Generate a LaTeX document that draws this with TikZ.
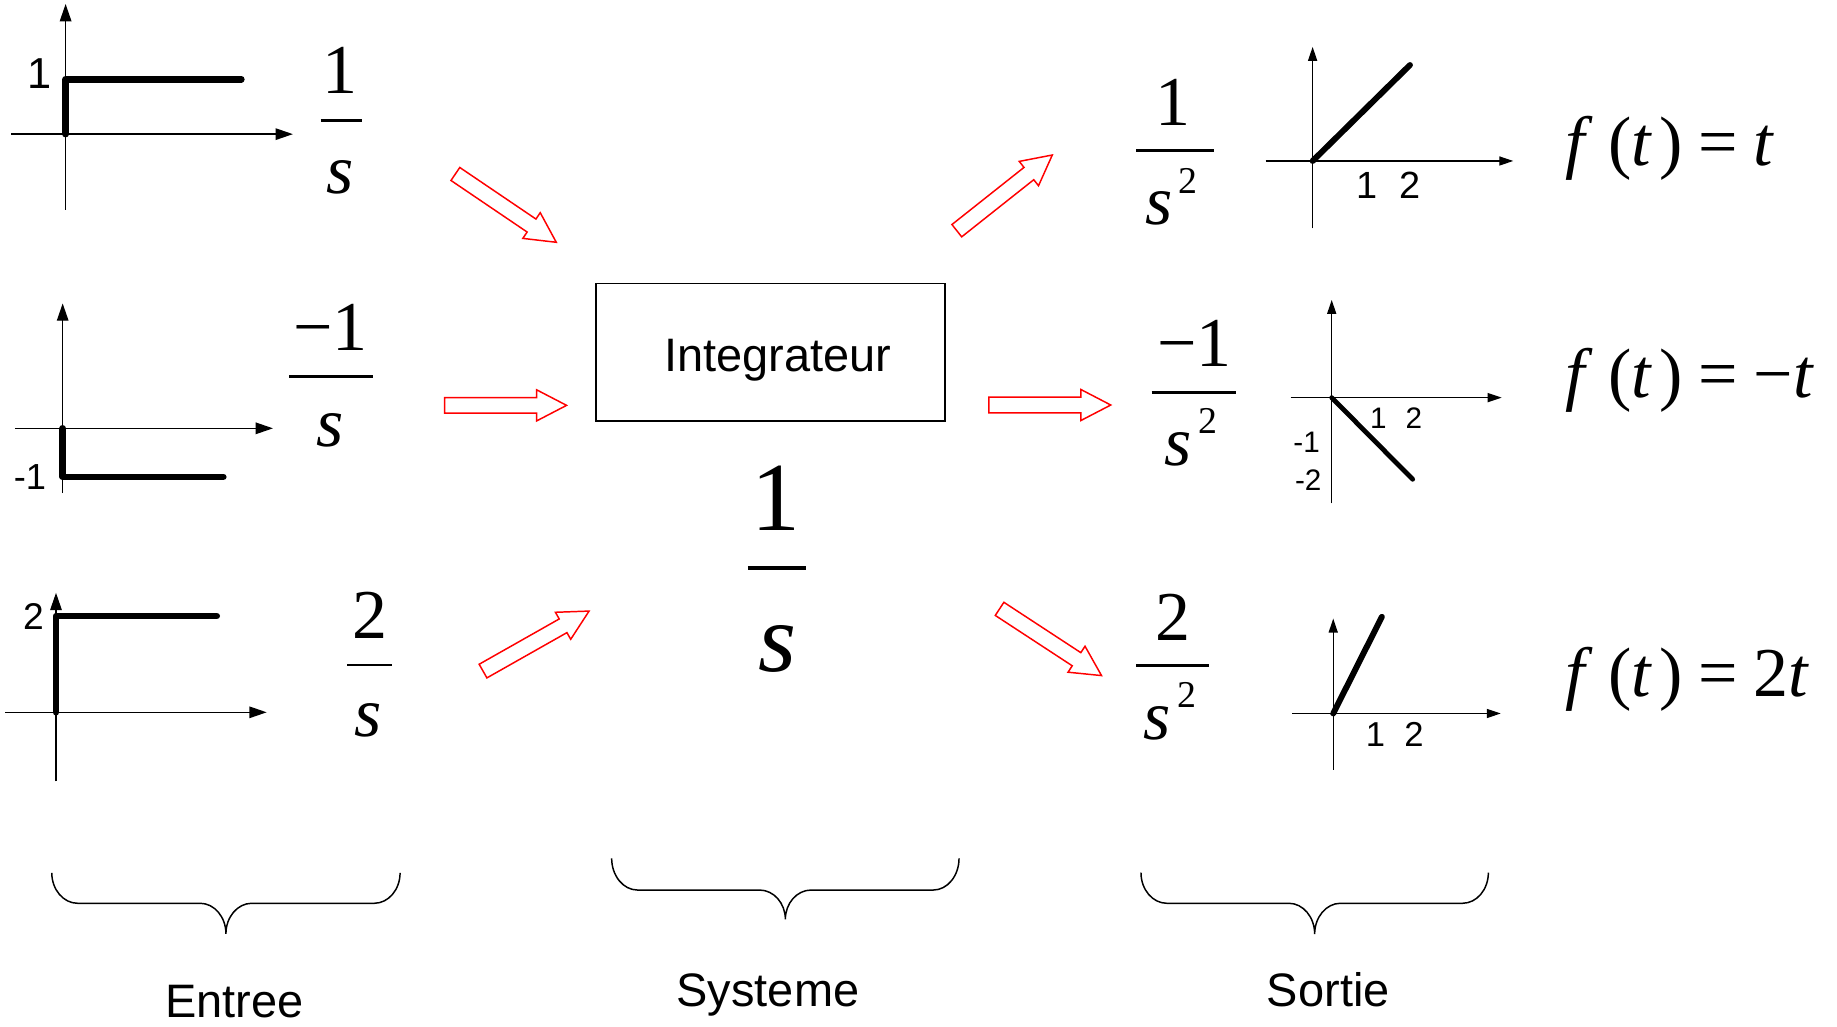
\documentclass[tikz,border=0pt]{standalone}
\usepackage{fontspec}
\setmainfont{Liberation Serif}
\newfontfamily\arial{Liberation Sans}
\usetikzlibrary{arrows.meta}
\newcommand\fs[1]{\fontsize{#1}{#1}\selectfont}
\newcommand\hollowarrow[2]{% tail coordinate, angle
  \draw[redarrow, shift={(#1)}, rotate=#2] (0,-6.7) -- (78.5,-6.7) -- (78.5,-13.25) -- (104,0)
    -- (78.5,13.25) -- (78.5,6.7) -- (0,6.7) -- cycle;}
\newcommand\ubrace[5]{% x0, x1, top, bar, tip
  \pgfmathsetmacro\mx{(#1+#2)/2}
  \draw[bracestyle] (#1,#3) .. controls (#1,{#3+0.55*(#4-#3)}) and ({#1+9.9},#4) .. ({#1+22},#4)
    -- ({\mx-22},#4) .. controls ({\mx-9.9},#4) and (\mx,{#4+0.45*(#5-#4)}) .. (\mx,#5)
    .. controls (\mx,{#4+0.45*(#5-#4)}) and ({\mx+9.9},#4) .. ({\mx+22},#4)
    -- ({#2-22},#4) .. controls ({#2-9.9},#4) and (#2,{#3+0.55*(#4-#3)}) .. (#2,#3);}
\begin{document}
\begin{tikzpicture}[x=0.025cm, y=-0.025cm,
  axis/.style={line width=0.8pt, -{Triangle[length=10.5pt,width=7pt]}},
  axisR/.style={line width=0.8pt, -{Triangle[length=8.5pt,width=5.5pt]}},
  sig/.style={line width=4pt, line cap=round, line join=round},
  sigR/.style={line width=3.6pt, line cap=round, line join=round},
  sigthin/.style={line width=2.9pt, line cap=round, line join=round},
  fracbar/.style={line width=1.7pt},
  redarrow/.style={draw=red, line width=0.9pt, line join=miter},
  bracestyle/.style={line width=0.9pt},
  lab/.style={inner sep=0pt, anchor=base},
  mth/.style={inner sep=0pt, anchor=base, font=\fs{42.5}},
  supr/.style={inner sep=0pt, anchor=base, font=\fs{23}},
  bigm/.style={inner sep=0pt, anchor=base, font=\fs{59.3}},
  ftext/.style={inner sep=0pt, anchor=base west, font=\fs{42.5}},
  title/.style={inner sep=0pt, anchor=base, font=\arial\fs{28.5}}
]
\useasboundingbox (0,0) rectangle (1568,876);

% ---------- input graphs ----------
\draw[axis] (56,179) -- (56,3.4);
\draw[axis] (9.4,114.5) -- (250,114.5);
\draw[sig] (56,114.5) -- (56,67.7) -- (206,67.7);
\node[lab, font=\arial\fs{26.3}] (l1) at (34,75.4) {1};

\draw[axis] (53.5,421) -- (53.5,259);
\draw[axis] (12.8,365.6) -- (233,365.6);
\draw[sig] (53.5,365.6) -- (53.5,407) -- (190.6,407);
\node[lab, font=\arial\fs{22}] (l2) at (25.6,418.2) {-1};

\draw[axis] (47.8,667) -- (47.8,506);
\draw[axis] (4.3,608) -- (227.6,608);
\draw[sig] (47.8,608) -- (47.8,525.8) -- (185,525.8);
\node[lab, font=\arial\fs{22.6}] (l3) at (28.5,537.7) {2};

% ---------- input fractions ----------
\node[mth] (n1) at (290,80) {1};
\draw[fracbar] (273.7,103) -- (308.7,103);
\node[mth] (d1) at (290,165) {\textit{s}};

\node[mth] (n2) at (282,299) {−1};
\draw[fracbar] (247,321.5) -- (318,321.5);
\node[mth] (d2) at (282,381) {\textit{s}};

\node[mth] (n3) at (315.8,544.6) {2};
\draw[fracbar] (296.5,567.6) -- (335,567.6);
\node[mth] (d3) at (314,628.8) {\textit{s}};

% ---------- system ----------
\node[draw, line width=1.2pt, minimum width=7.44cm, minimum height=2.925cm, inner sep=0pt] (box) at (657.5,300.5) {};
\node[title] (intg) at (664,317) {Integrateur};

\node[bigm] (nc) at (662.3,452.4) {1};
\draw[line width=2.3pt] (638.4,484.7) -- (688.2,484.7);
\node[bigm] (dc) at (663.5,573) {\textit{s}};

% ---------- red block arrows ----------
\coordinate (a1) at (388.7,148.5);
\coordinate (a2) at (379.6,346);
\coordinate (a3) at (412.3,572.8);
\coordinate (a4) at (816.7,196.9);
\coordinate (a5) at (844.1,345.7);
\coordinate (a6) at (853.2,519.7);
\hollowarrow{a1}{-34.1}
\hollowarrow{a2}{0}
\hollowarrow{a3}{29.5}
\hollowarrow{a4}{38.4}
\hollowarrow{a5}{0}
\hollowarrow{a6}{-33.2}

% ---------- output fractions ----------
\node[mth] (n4) at (1001.5,107.5) {1};
\draw[fracbar] (970,128.6) -- (1036.5,128.6);
\node[mth] (d4) at (989,192) {\textit{s}};
\node[supr] (e4) at (1014.3,165) {2};

\node[mth] (n5) at (1019.7,312.4) {−1};
\draw[fracbar] (983,334.9) -- (1055,334.9);
\node[mth] (d5) at (1006,397) {\textit{s}};
\node[supr] (e5) at (1031.4,370) {2};

\node[mth] (n6) at (1001,547) {2};
\draw[fracbar] (970,568) -- (1032,568);
\node[mth] (d6) at (988,631) {\textit{s}};
\node[supr] (e6) at (1013,604) {2};

% ---------- output graphs ----------
\draw[axisR] (1120.4,194.9) -- (1120.4,40);
\draw[axisR] (1080.3,137.4) -- (1291.7,137.4);
\draw[sigR] (1120.4,137.4) -- (1203.5,55.5);
\node[lab, font=\arial\fs{23}] (r1a) at (1166.5,169.3) {1};
\node[lab, font=\arial\fs{23}] (r1b) at (1203.5,169.3) {2};

\draw[axisR] (1136.7,429.6) -- (1136.7,256);
\draw[axisR] (1101.6,339.4) -- (1281.8,339.4);
\draw[sigthin] (1136.7,339.4) -- (1205.8,409.1);
\node[lab, font=\arial\fs{18}] (r2a) at (1176.5,366) {1};
\node[lab, font=\arial\fs{18}] (r2b) at (1206.9,366) {2};
\node[lab, font=\arial\fs{18}] (r2c) at (1115.3,386) {-1};
\node[lab, font=\arial\fs{18}] (r2d) at (1116.7,418.5) {-2};

\draw[axisR] (1138,657) -- (1138,528);
\draw[axisR] (1103,609) -- (1281,609);
\draw[sigR] (1138,609) -- (1179.5,526.5);
\node[lab, font=\arial\fs{21}] (r3a) at (1174,637) {1};
\node[lab, font=\arial\fs{21}] (r3b) at (1207,637) {2};

% ---------- time functions ----------
\node[ftext] (f1) at (1336,141.4) {\textit{f}\kern0.22em(\textit{t}\kern0.1em)\kern0.23em=\kern0.22em\textit{t}};
\node[ftext] (f2) at (1336,339.4) {\textit{f}\kern0.22em(\textit{t}\kern0.1em)\kern0.23em=\kern0.22em−\textit{t}};
\node[ftext] (f3) at (1336,594.4) {\textit{f}\kern0.22em(\textit{t}\kern0.1em)\kern0.23em=\kern0.22em2\textit{t}};

% ---------- braces and captions ----------
\ubrace{44.2}{341.5}{745}{771}{797}
\ubrace{522.1}{818.6}{732.6}{759.7}{784.7}
\ubrace{973.9}{1270.4}{744.9}{771}{797.2}
\node[title] (entree) at (199.9,868.5) {Entree};
\node[title] (systeme) at (655.5,859) {Systeme};
\node[title] (sortie) at (1133.8,859) {Sortie};
\end{tikzpicture}
\end{document}
